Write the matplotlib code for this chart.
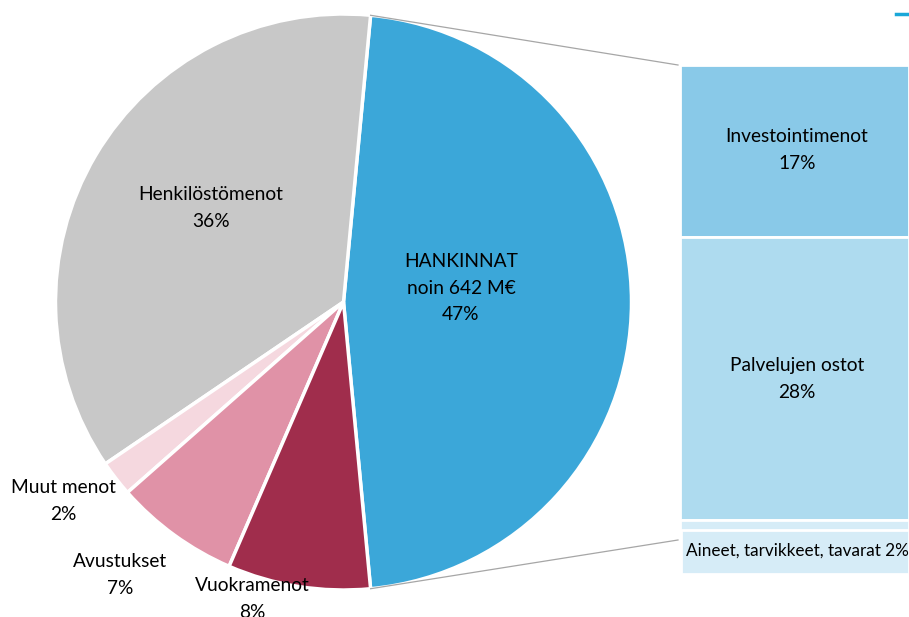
import matplotlib
matplotlib.use("Agg")
import matplotlib.pyplot as plt
from matplotlib.patches import Rectangle
import numpy as np

# pie data (share of total, %)
pie_labels = ["HANKINNAT\nnoin 642 M€\n47%", "Henkilöstömenot\n36%", "Muut menot\n2%",
              "Avustukset\n7%", "Vuokramenot\n8%"]
pie_values = [47, 36, 2, 7, 8]
pie_colors = ["#3BA7D9", "#C8C8C8", "#F5D8DF", "#E092A7", "#A02D4C"]

# breakdown of HANKINNAT (%)
bar_labels = ["Investointimenot\n17%", "Palvelujen ostot\n28%", "Aineet, tarvikkeet, tavarat 2%"]
bar_values = [17, 28, 2]
bar_colors = ["#89C9E8", "#AEDBEF", "#D6ECF7"]

W, H = 909, 617
plt.rcParams['font.family'] = ['Lato', 'DejaVu Sans']
fig = plt.figure(figsize=(W / 100, H / 100), dpi=100)

# stacked bar for breakdown (drawn first, below the main axes)
bx0, bx1, by0, by1 = 680, 909, 65, 540
bax = fig.add_axes([bx0 / W, (H - by1) / H, (bx1 - bx0) / W, (by1 - by0) / H])
bottom = 0
for v, c in zip(bar_values, bar_colors):
    bax.bar(0, v, bottom=bottom, width=1, color=c, edgecolor='white', linewidth=2)
    bottom += v
bax.set_xlim(-0.5, 0.5)
bax.set_ylim(sum(bar_values), 0)
bax.axis('off')

ax = fig.add_axes([0, 0, 1, 1])
ax.set_zorder(2)


def yy(py):
    return H - py


cx, cy, r = 343.5, yy(302), 288
start = -pie_values[0] / 100 * 360 / 2
wedges, _ = ax.pie(pie_values, colors=pie_colors, startangle=start, counterclock=True,
                   center=(cx, cy), radius=r, frame=True,
                   wedgeprops=dict(edgecolor='white', linewidth=2.5))
ax.set_xlim(0, W)
ax.set_ylim(0, H)
ax.set_aspect('auto')
ax.axis('off')

fs = 13.8
ls = 1.65
label_pos = [(461, 288), (211, 208), (63, 501), (120, 575), (252, 599)]
for txt, (px, py) in zip(pie_labels, label_pos):
    ax.text(px, yy(py), txt, ha='center', va='center', fontsize=fs, linespacing=ls)

bar_text_pos = [(797, 150), (797, 379)]
for txt, (px, py) in zip(bar_labels[:2], bar_text_pos):
    ax.text(px, yy(py), txt, ha='center', va='center', fontsize=fs, linespacing=ls)

# label box for the small segment
ax.add_patch(Rectangle((681, yy(574)), 228, 44, facecolor=bar_colors[2],
                       edgecolor='white', linewidth=2, zorder=5))
ax.text(797, yy(551), bar_labels[2], ha='center', va='center', fontsize=12.3, zorder=6)

# connector lines from pie rim to bar
for ang, ty in [(-start, by0), (start, by1)]:
    a = np.deg2rad(ang)
    ax.plot([cx + r * np.cos(a), bx0 - 2], [cy + r * np.sin(a), yy(ty)],
            color='#A6A6A6', linewidth=0.9)

ax.plot([896, 909], [yy(14), yy(14)], color='#1AA7D8', linewidth=2.5)

fig.savefig("out.png", dpi=100)
